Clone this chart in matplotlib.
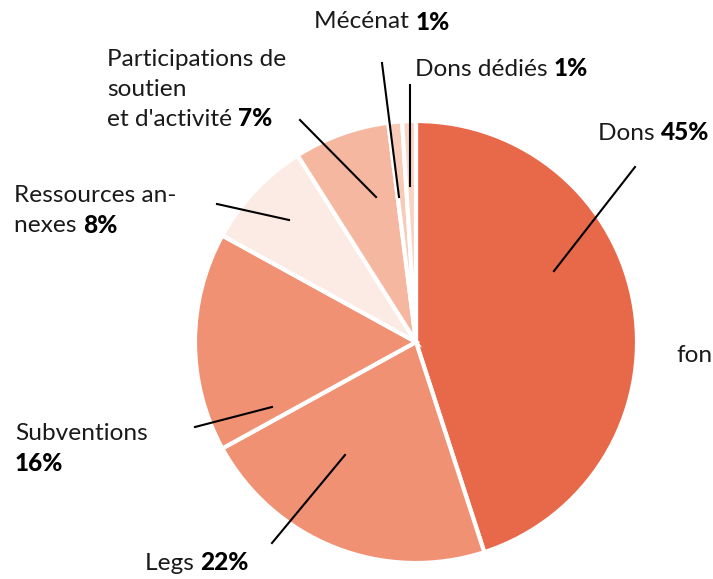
import matplotlib
matplotlib.use('Agg')
import matplotlib.pyplot as plt

# data
labels = ['Dons', 'Legs', 'Subventions', 'Ressources annexes',
          "Participations de soutien et d'activité", 'Mécénat', 'Dons dédiés']
values = [45, 22, 16, 8, 7, 1, 1]
colors = ['#E8684A', '#F09173', '#F09173', '#FCEBE4', '#F5B79F', '#F8CBB9', '#F9D4C5']

# label text (name part, percent part), position (px)
label_text = [
    ('Dons ', '45%'),
    ('Legs ', '22%'),
    ('Subventions\n', '16%'),
    ('Ressources an-\nnexes ', '8%'),
    ('Participations de\nsoutien\net d\'activité ', '7%'),
    ('Mécénat ', '1%'),
    ('Dons dédiés ', '1%'),
]
label_pos = [(598, 133), (145, 563), (15, 434), (14, 196), (107, 60), (314, 22), (415, 69)]
leader = [((554, 271), (635, 167)), ((345, 455), (272, 543)), ((272, 407), (195, 427)),
          ((289, 220), (217, 204)), ((376, 197), (300, 120)), ((399, 197), (382, 63)),
          ((410, 186), (410, 85))]

W, H = 713, 579
plt.rcParams['font.family'] = ['Lato', 'DejaVu Sans']
fig = plt.figure(figsize=(W / 100, H / 100), dpi=100)
ax = fig.add_axes([0, 0, 1, 1])

ax.pie(values, colors=colors, startangle=90, counterclock=False,
       center=(416, H - 342), radius=221, frame=True,
       explode=[0.014] * len(values),
       wedgeprops=dict(edgecolor='white', linewidth=3))
ax.set_xlim(0, W)
ax.set_ylim(0, H)
ax.set_aspect('equal')
ax.axis('off')

fs = 17.6
for (name, pct), (x, y), (p0, p1) in zip(label_text, label_pos, leader):
    ax.plot([p0[0], p1[0]], [H - p0[1], H - p1[1]], color='black', lw=1.5)
    lines = name.split('\n')
    last = lines[-1]
    for i, ln in enumerate(lines[:-1]):
        ax.text(x, H - (y + i * 29.5), ln, fontsize=fs, va='center', ha='left', color='#1a1a1a')
    yy = H - (y + (len(lines) - 1) * 29.5)
    t = ax.text(x, yy, last, fontsize=fs, va='center', ha='left', color='#1a1a1a')
    fig.canvas.draw()
    bb = t.get_window_extent()
    x2 = bb.x1 if last else x
    ax.text(x2, yy, pct, fontsize=fs, va='center', ha='left', fontweight='black', color='black')

ax.text(676, H - 355, 'fon', fontsize=fs, va='center', ha='left', color='#1a1a1a')

fig.savefig('out.png', dpi=100)
